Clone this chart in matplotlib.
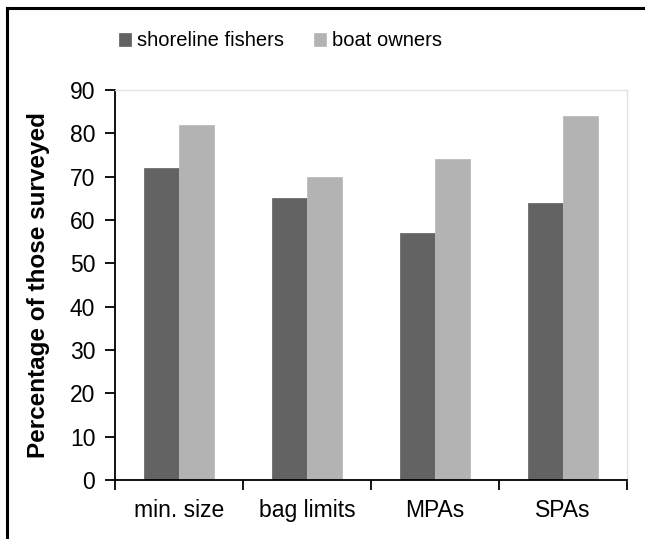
import numpy as np
import matplotlib
matplotlib.use("Agg")
import matplotlib.pyplot as plt
from matplotlib.lines import Line2D

plt.rcParams['font.family'] = ['Liberation Sans', 'DejaVu Sans']

# data
categories = ['min. size', 'bag limits', 'MPAs', 'SPAs']
shoreline = [72, 65, 57, 64]
boat = [82, 70, 74, 84]
series_names = ['shoreline fishers', 'boat owners']

dark = '#636363'
light = '#b3b3b3'

fig = plt.figure(figsize=(6.45, 5.39), dpi=100)
ax = fig.add_axes([0.178, 0.1095, 0.794, 0.7235])

x = np.arange(len(categories))
w = 0.273
b1 = ax.bar(x - w/2, shoreline, w, color=dark, edgecolor='#6e6e6e', linewidth=0.6, label=series_names[0])
b2 = ax.bar(x + w/2, boat, w, color=light, edgecolor='#bcbcbc', linewidth=0.6, label=series_names[1])

ax.set_xlim(-0.5, len(categories) - 0.5)
ax.set_ylim(0, 90)
ax.set_yticks(np.arange(0, 91, 10))
ax.set_xticks(x)
ax.set_xticklabels(categories)
ax.set_xticks(np.arange(-0.5, len(categories)), minor=True)
ax.tick_params(axis='x', which='major', length=0, labelsize=16.5, pad=14)
ax.tick_params(axis='x', which='minor', length=7, width=1.3, direction='out')
ax.tick_params(axis='y', length=7, width=1.3, direction='out', labelsize=16.5, pad=7)

for s in ['left', 'bottom']:
    ax.spines[s].set_linewidth(1.3)
    ax.spines[s].set_color('black')
for s in ['top', 'right']:
    ax.spines[s].set_color('#e2e2e2')
    ax.spines[s].set_linewidth(1.0)

ax.set_ylabel('Percentage of those surveyed', fontsize=17.5, fontweight='bold', labelpad=14)

fig.legend(handles=[b1, b2], labels=series_names, loc='center', bbox_to_anchor=(0.435, 0.924),
           ncol=2, frameon=False, fontsize=14.5, handlelength=0.6, handleheight=0.6,
           handletextpad=0.3, columnspacing=1.5)

# outer frame (top and left only)
fig.add_artist(Line2D([7/645, 1.0], [1 - 8/539, 1 - 8/539], color='black', linewidth=2.2,
                      transform=fig.transFigure))
fig.add_artist(Line2D([7/645, 7/645], [0.0, 1 - 8/539], color='black', linewidth=2.2,
                      transform=fig.transFigure))

fig.savefig('out.png', dpi=100)
